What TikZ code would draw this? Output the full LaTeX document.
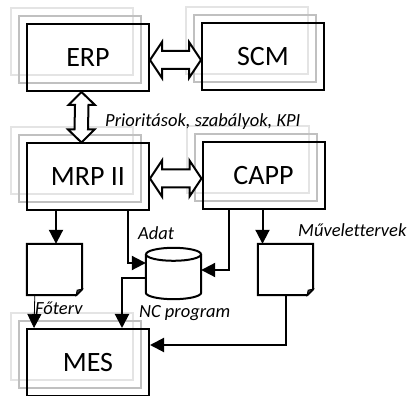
\documentclass[tikz,border=0pt]{standalone}
\usepackage{fontspec}
\setmainfont{Carlito}[Ligatures=NoCommon]
\usetikzlibrary{arrows.meta,calc}
\definecolor{lightg}{HTML}{E4E4E4}
\definecolor{midg}{HTML}{C0C0C0}
\begin{document}
\begin{tikzpicture}[x=1pt,y=-1pt,
  sysbox/.style={draw, line width=2pt, minimum width=122pt, minimum height=67pt, inner sep=0pt,
    font=\fontsize{28}{30}\selectfont,
    preaction={draw=lightg, line width=2pt, transform canvas={shift={(-16pt,16pt)}}},
    preaction={draw=midg, line width=2pt, transform canvas={shift={(-8pt,8pt)}}}},
  lbl/.style={font=\itshape\fontsize{18.5}{20}\selectfont, inner sep=0pt, anchor=west},
  arr/.style={line width=2pt, -{Triangle[length=14pt,width=14pt]}},
  thinarr/.style={line width=0.8pt, -{Triangle[length=14pt,width=14pt]}},
  dblarr/.style={draw, line width=2pt, fill=white, line join=miter},
  docfill/.style={draw, line width=2pt, fill=white, line join=miter}]
\useasboundingbox (0,0) rectangle (408,396);
\clip (0,0) rectangle (408,396);

% boxes
\node[sysbox] (erp)  at (88,57.5)    {ERP};
\node[sysbox] (scm)  at (263,57)     {SCM};
\node[sysbox] (mrp)  at (88,177)     {MRP II};
\node[sysbox] (capp) at (263.5,176)  {CAPP};
\node[sysbox] (mes)  at (88,362.5)   {MES};

% documents
\node[minimum width=55pt, minimum height=51pt, inner sep=0pt] (doc1) at (54.5,269.5) {};
\node[minimum width=55pt, minimum height=51pt, inner sep=0pt] (doc2) at (285.5,269.5) {};
\foreach \d in {doc1,doc2}{
  \draw[docfill] (\d.north west) -- (\d.north east) -- ([yshift=6pt]\d.south east)
     -- ([xshift=-6pt]\d.south east) -- (\d.south west) -- cycle;
  \draw[line width=1pt, fill=black!75] ([xshift=-6pt]\d.south east) -- ([xshift=-5pt,yshift=5pt]\d.south east) -- ([yshift=6pt]\d.south east) -- cycle;
}

% database cylinder
\node[minimum width=55pt, minimum height=51pt, inner sep=0pt] (db) at (173.5,273.5) {};
\draw[line width=2pt, fill=white]
  ($(db.north west)+(0,6.5)$) -- ($(db.south west)+(0,-6.5)$)
  .. controls +(0,3.59) and +(-15.19,0) .. (db.south)
  .. controls +(15.19,0) and +(0,3.59) .. ($(db.south east)+(0,-6.5)$)
  -- ($(db.north east)+(0,6.5)$);
\draw[line width=2pt, fill=white] ($(db.north)+(0,6.5)$) ellipse [x radius=27.5, y radius=6.5];

% double arrows
\draw[dblarr] (erp.east |- 0,60) -- ++(12,-18) -- ++(0,9) -- ($(scm.west |- 0,51)+(-12,0)$) -- ++(0,-9)
  -- (scm.west |- 0,60) -- ++(-12,18) -- ++(0,-9) -- ($(erp.east |- 0,69)+(12,0)$) -- ++(0,9) -- cycle;
\draw[dblarr] (mrp.east |- 0,178.5) -- ++(12,-18) -- ++(0,9) -- ($(capp.west |- 0,169.5)+(-12,0)$) -- ++(0,-9)
  -- (capp.west |- 0,178.5) -- ++(-12,18) -- ++(0,-9) -- ($(mrp.east |- 0,187.5)+(12,0)$) -- ++(0,9) -- cycle;
\draw[dblarr] (81.5,0 |- erp.south) -- ++(13.5,13) -- ++(-6.5,0) -- ($(88,0 |- mrp.north)+(0,-13)$) -- ++(6.5,0)
  -- (81.5,0 |- mrp.north) -- ++(-13.5,-13) -- ++(6.5,0) -- ($(75,0 |- erp.south)+(0,13)$) -- ++(-6.5,0) -- cycle;

% connectors
\draw[arr] ([xshift=30pt]mrp.south west) -- ([xshift=30pt]mrp.south west |- doc1.north);
\draw[arr] ([xshift=102pt]mrp.south west) |- ([yshift=10.5pt]db.west);
\draw[arr] ([xshift=27pt]capp.south west) |- ([yshift=3.5pt]db.east);
\draw[arr] ([xshift=61pt]capp.south west) -- ([xshift=61pt]capp.south west |- doc2.north);
\draw[arr] ([yshift=-4.5pt]db.west) -| ([xshift=96pt]mes.north west);
\draw[thinarr] ([xshift=8pt]doc1.south west) -- ([xshift=8pt]mes.north west);
\draw[arr] (doc2.south) |- ([yshift=-17pt]mes.north east);

% labels
\node[lbl] (l1) at (105,122) {Prioritások, szabályok, KPI};
\node[lbl] (l2) at (138,233) {Adat};
\node[lbl] (l3) at (298,230) {Művelettervek};
\node[lbl] (l4) at (139,313) {NC program};
\node[lbl] (l5) at (35,308) {Főterv};
\end{tikzpicture}
\end{document}
